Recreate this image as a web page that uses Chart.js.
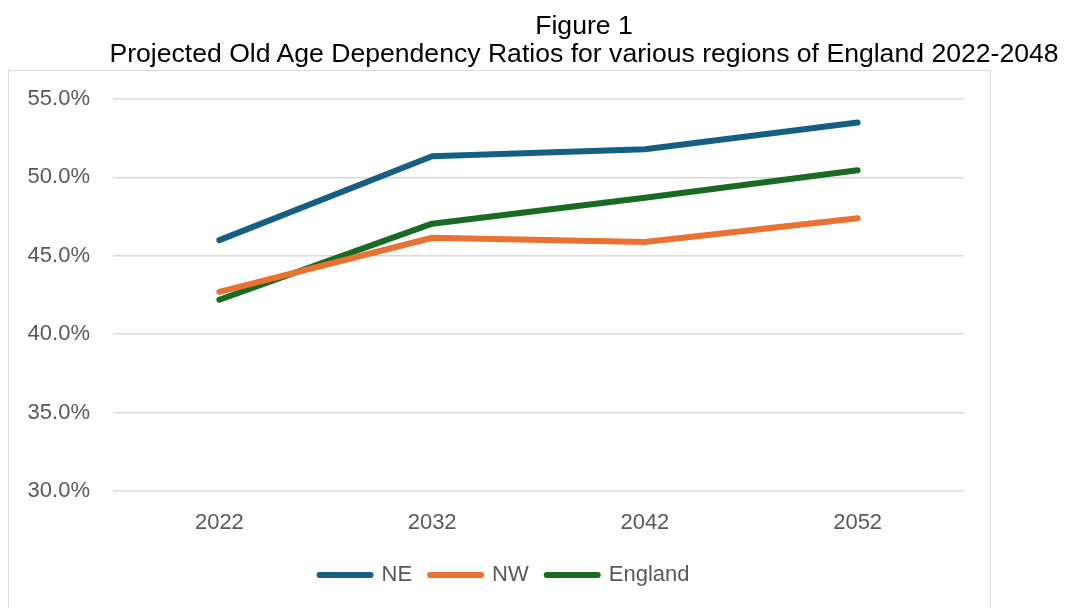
<!DOCTYPE html>
<html>
<head>
<meta charset="utf-8">
<script src="https://cdn.jsdelivr.net/npm/chart.js@4"></script>
<style>
  html, body { margin: 0; padding: 0; background: #fff; }
  #wrap { position: relative; width: 1065px; height: 608px; overflow: hidden; }
  #box { position: absolute; left: 8px; top: 70px; width: 983px; height: 600px; border: 1.5px solid #d9d9d9; box-sizing: border-box; }
  #title { position: absolute; left: 84px; width: 1000px; top: 11px; text-align: center; font-family: "Liberation Sans", Arial, sans-serif; font-size: 26.6px; line-height: 28px; color: #000; white-space: nowrap; }
  canvas { position: absolute; left: 0; top: 0; }
</style>
</head>
<body>
<div id="wrap">
  <div id="box"></div>
  <canvas id="c" width="1065" height="608"></canvas>
  <div id="title">Figure 1<br>Projected Old Age Dependency Ratios for various regions of England 2022-2048</div>
</div>
<script>
const categories = ["2022", "2032", "2042", "2052"];
const seriesNames = ["NE", "NW", "England"];
const neValues = [46.0, 51.35, 51.8, 53.5];
const nwValues = [42.7, 46.15, 45.88, 47.4];
const englandValues = [42.2, 47.05, 48.7, 50.45];
const yTicks = [30, 35, 40, 45, 50, 55];
const colors = ["#156082", "#E97132", "#196B24"];

const tickFont = { family: "'Liberation Sans', Arial, sans-serif", size: 22 };

new Chart(document.getElementById('c'), {
  type: 'line',
  data: {
    labels: categories,
    datasets: [neValues, nwValues, englandValues].map((vals, i) => ({
      label: seriesNames[i],
      data: vals,
      borderColor: colors[i],
      backgroundColor: colors[i],
      borderWidth: 6,
      borderCapStyle: 'round',
      borderJoinStyle: 'round',
      pointRadius: 0,
      pointHoverRadius: 0,
      tension: 0,
      fill: false,
      yAxisID: 'y'
    }))
  },
  options: {
    responsive: false,
    animation: false,
    devicePixelRatio: 1,
    layout: { padding: { left: 18, right: 74, top: 99, bottom: 12 } },
    plugins: {
      legend: {
        position: 'bottom',
        labels: {
          boxWidth: 51,
          boxHeight: 0,
          padding: 18,
          color: '#595959',
          font: tickFont
        }
      },
      title: { display: false },
      tooltip: { enabled: false }
    },
    scales: {
      x: {
        offset: true,
        grid: { display: false },
        border: { display: false },
        ticks: { color: '#595959', font: tickFont, padding: 11 },
        afterFit(s) { s.height = 55; }
      },
      y: {
        min: yTicks[0],
        max: yTicks[yTicks.length - 1],
        afterBuildTicks(s) { s.ticks = yTicks.map(v => ({ value: v })); },
        grid: { color: '#d9d9d9', lineWidth: 1.5, drawTicks: false },
        border: { display: false },
        ticks: {
          color: '#595959', font: tickFont, padding: 23,
          callback: v => v.toFixed(1) + '%'
        },
        afterFit(s) { s.width = 95; }
      },
      y2: {
        position: 'right',
        display: true,
        grid: { display: false },
        border: { display: false },
        ticks: { display: false },
        afterFit(s) { s.width = 27; }
      }
    }
  }
});
</script>
</body>
</html>
